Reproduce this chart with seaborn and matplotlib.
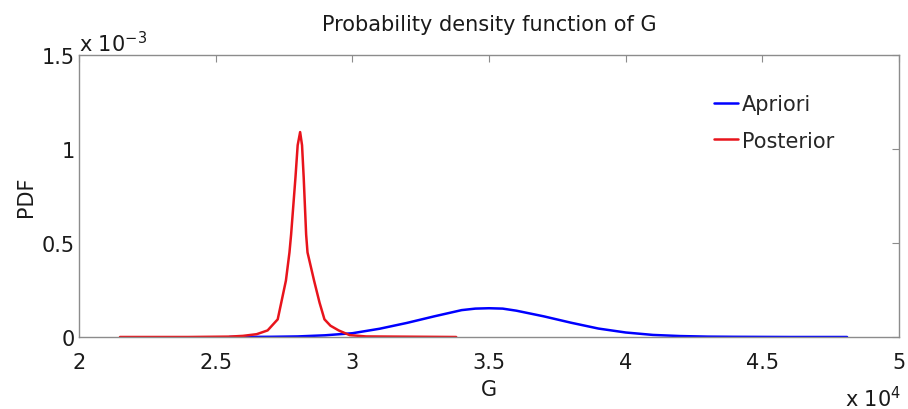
import matplotlib
matplotlib.use("Agg")
import matplotlib.pyplot as plt
import seaborn as sns
import pandas as pd

# Data (G in units of 1e4, PDF in units of 1e-3)
apriori_g = [2.55, 2.7, 2.8, 2.9, 3.0, 3.1, 3.2, 3.3, 3.4, 3.45, 3.5, 3.55, 3.6, 3.7, 3.8, 3.9,
             4.0, 4.1, 4.2, 4.3, 4.4, 4.6, 4.81]
apriori_pdf = [0.0, 0.001, 0.003, 0.009, 0.02, 0.044, 0.075, 0.11, 0.143, 0.151, 0.153, 0.151,
               0.14, 0.11, 0.076, 0.045, 0.024, 0.011, 0.005, 0.002, 0.001, 0.0, 0.0]
posterior_g = [2.15, 2.4, 2.55, 2.6, 2.65, 2.69, 2.727, 2.74, 2.757, 2.77, 2.776, 2.792, 2.8, 2.809,
               2.816, 2.822, 2.831, 2.836, 2.86, 2.88, 2.898, 2.92, 2.95, 2.99, 3.05, 3.38]
posterior_pdf = [0.0, 0.0, 0.002, 0.006, 0.015, 0.035, 0.094, 0.183, 0.3, 0.45, 0.545, 0.85, 1.02, 1.09,
                 1.02, 0.85, 0.545, 0.45, 0.3, 0.183, 0.094, 0.06, 0.035, 0.01, 0.003, 0.0]

series = ["Apriori", "Posterior"]
colors = {"Apriori": "#0000ff", "Posterior": "#e8141c"}
title = "Probability density function of G"
x_ticks = [2, 2.5, 3, 3.5, 4, 4.5, 5]
y_ticks = [0, 0.5, 1, 1.5]

df = pd.concat([
    pd.DataFrame({"G": apriori_g, "PDF": apriori_pdf, "series": series[0]}),
    pd.DataFrame({"G": posterior_g, "PDF": posterior_pdf, "series": series[1]}),
])

sns.set_style("white")
plt.rcParams["font.family"] = ["DejaVu Sans"]
plt.rcParams["mathtext.default"] = "regular"
FS = 15
TXT = "#1a1a1a"

W, H = 908, 410
fig = plt.figure(figsize=(W / 100, H / 100), dpi=100)
ax = fig.add_axes([79 / W, 1 - 338 / H, 820 / W, (338 - 56) / H])

sns.lineplot(data=df, x="G", y="PDF", hue="series", palette=colors, sort=False,
             linewidth=1.8, ax=ax, estimator=None)

ax.set_xlim(2, 5)
ax.set_ylim(0, 1.5)
ax.set_xticks(x_ticks)
ax.set_yticks(y_ticks)
ax.set_xticklabels([f"{t:g}" for t in x_ticks])
ax.set_yticklabels([f"{t:g}" for t in y_ticks])
for s in ax.spines.values():
    s.set_visible(True)
    s.set_color("#8c8c8c")
    s.set_linewidth(1.0)
ax.tick_params(direction="in", length=5, width=0.8, color="#8c8c8c", labelsize=FS,
               labelcolor=TXT, top=True, right=True, labeltop=False, labelright=False)
ax.tick_params(axis="x", pad=11)
ax.tick_params(axis="y", pad=3)

ax.set_title(title, fontsize=FS, pad=18, color=TXT)
ax.set_xlabel("G", fontsize=FS, labelpad=5, color=TXT)
ax.set_ylabel("PDF", fontsize=FS, labelpad=4, color=TXT)

fig.text(79 / W, 1 - 52 / H, "x 10$^{-3}$", fontsize=FS, ha="left", va="baseline", color=TXT)
fig.text(901 / W, 1 - 407 / H, "x 10$^{4}$", fontsize=FS, ha="right", va="baseline", color=TXT)

leg = ax.legend(loc="upper left", bbox_to_anchor=(714 / W, 1 - 95 / H),
                bbox_transform=fig.transFigure, frameon=False, fontsize=FS, borderpad=0,
                borderaxespad=0, handlelength=1.15, handletextpad=0.2, labelspacing=0.8,
                title=None)

fig.savefig("out.png", dpi=100)
